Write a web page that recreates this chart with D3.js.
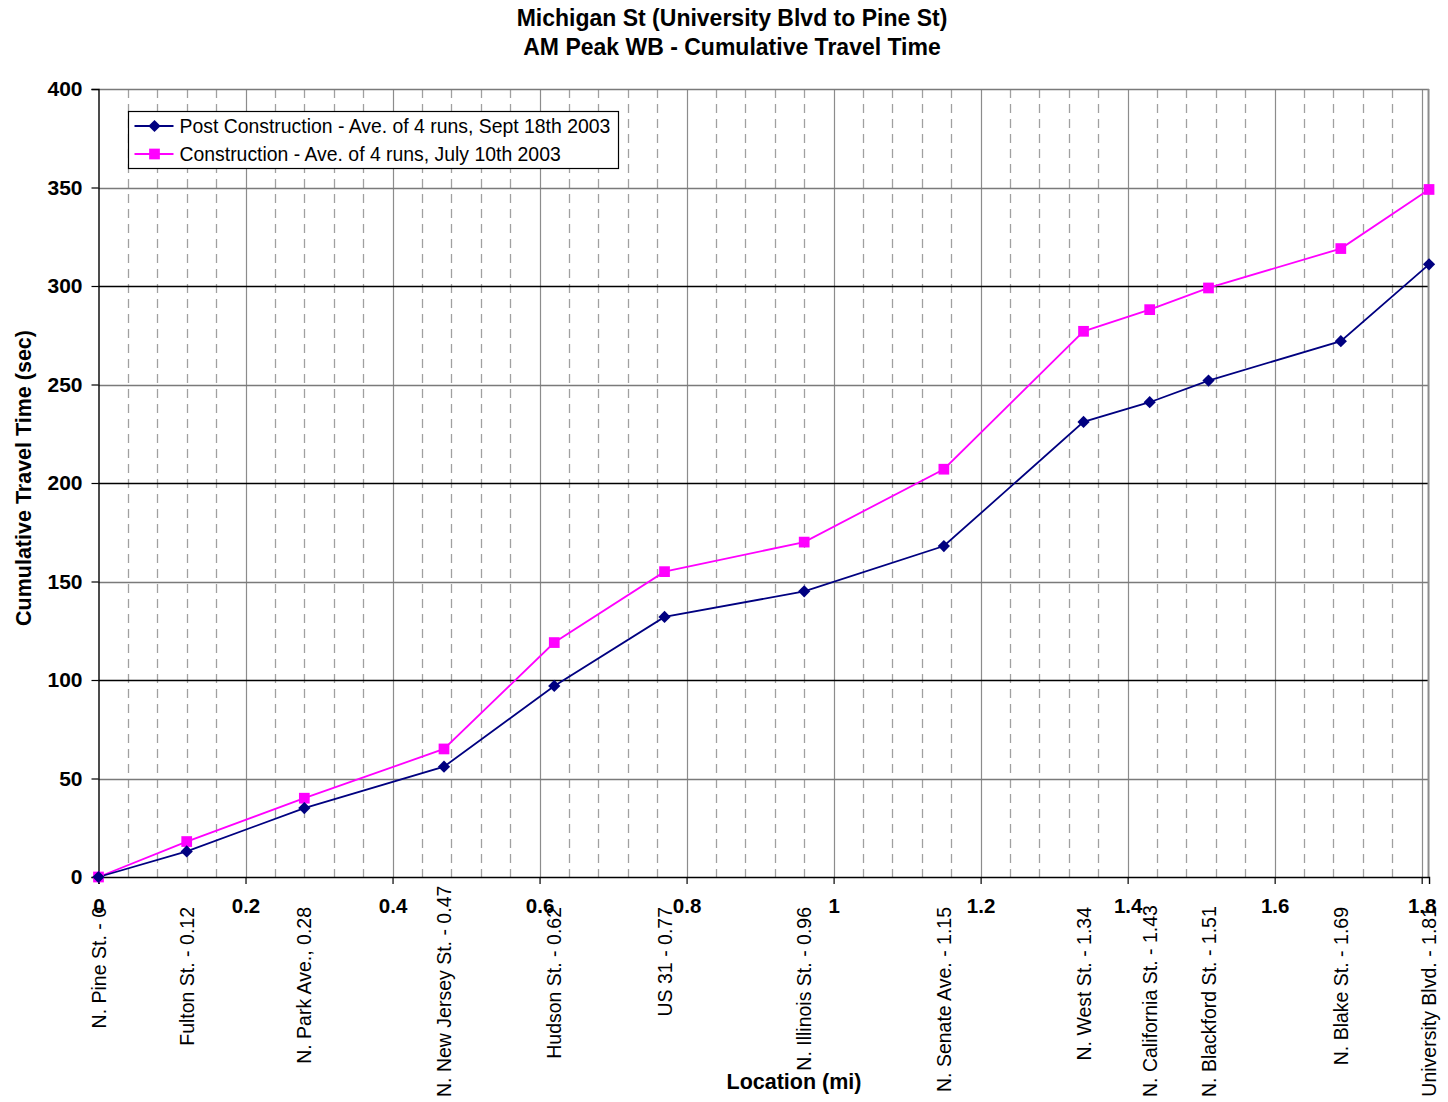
<!DOCTYPE html>
<html>
<head>
<meta charset="utf-8">
<script src="https://cdn.jsdelivr.net/npm/d3@7"></script>
<style>
  body { margin: 0; background: #fff; }
  svg { font-family: Arial, "Liberation Sans", sans-serif; }
</style>
</head>
<body>
<svg id="chart" width="1448" height="1102"></svg>
<script>
// data
const locations = ["N. Pine St. - 0", "Fulton St. - 0.12", "N. Park Ave.,  0.28", "N. New Jersey St. - 0.47",
  "Hudson St. - 0.62", "US 31 - 0.77", "N. Illinois St. - 0.96", "N. Senate Ave. - 1.15", "N. West St. - 1.34",
  "N. California St. - 1.43", "N. Blackford St. - 1.51", "N. Blake St. - 1.69", "University Blvd. - 1.81"];
const distances = [0, 0.12, 0.28, 0.47, 0.62, 0.77, 0.96, 1.15, 1.34, 1.43, 1.51, 1.69, 1.81];
const postConstruction = [0, 13, 35, 56, 97, 132, 145, 168, 231, 241, 252, 272, 311];
const construction = [0, 18, 40, 65, 119, 155, 170, 207, 277, 288, 299, 319, 349];
const xTicks = [0, 0.2, 0.4, 0.6, 0.8, 1, 1.2, 1.4, 1.6, 1.8];
const yTicks = [0, 50, 100, 150, 200, 250, 300, 350, 400];

const svg = d3.select("#chart");

// plot area
const plotLeft = 98.5, plotTop = 89, plotBottom = 877;
const x = d3.scaleLinear().domain([0, 1.81]).range([plotLeft, plotLeft + 1.81 * 735.1]);
const y = d3.scaleLinear().domain([0, 400]).range([plotBottom, plotTop]);
const plotRight = x(1.81);

// minor dashed vertical grid every 0.04
const minor = d3.range(1, 46).map(i => i * 0.04).filter(v => Math.abs(v / 0.2 - Math.round(v / 0.2)) > 0.01);
svg.append("g").selectAll("line")
  .data(minor)
  .enter().append("line")
  .attr("x1", d => Math.round(x(d)) + 0.5).attr("x2", d => Math.round(x(d)) + 0.5)
  .attr("y1", plotTop).attr("y2", plotBottom)
  .attr("stroke", "#a0a0a0").attr("stroke-width", 1.3)
  .attr("stroke-dasharray", "9,6");

// major vertical grid
svg.append("g").selectAll("line")
  .data(xTicks.slice(1))
  .enter().append("line")
  .attr("x1", d => Math.round(x(d)) + 0.5).attr("x2", d => Math.round(x(d)) + 0.5)
  .attr("y1", plotTop).attr("y2", plotBottom)
  .attr("stroke", "#8c8c8c").attr("stroke-width", 1.2);

// horizontal grid (hundreds drawn darker)
svg.append("g").selectAll("line")
  .data(yTicks.slice(1))
  .enter().append("line")
  .attr("x1", plotLeft).attr("x2", plotRight)
  .attr("y1", d => Math.round(y(d)) + 0.5).attr("y2", d => Math.round(y(d)) + 0.5)
  .attr("stroke", d => (d % 100 === 0 && d < 400) ? "#000" : "#7a7a7a")
  .attr("stroke-width", 1.3);

// right border
svg.append("line")
  .attr("x1", plotRight - 0.5).attr("x2", plotRight - 0.5).attr("y1", plotTop).attr("y2", plotBottom)
  .attr("stroke", "#8c8c8c").attr("stroke-width", 2);

// axes
const yAxis = svg.append("g")
  .attr("transform", `translate(${plotLeft},0)`)
  .call(d3.axisLeft(y).tickValues(yTicks).tickSize(7).tickPadding(9).tickFormat(d3.format("d")));
yAxis.select(".domain").attr("stroke", "#000").attr("stroke-width", 1.4);
yAxis.selectAll(".tick line").attr("stroke", "#000").attr("stroke-width", 1.2);
yAxis.selectAll("text").attr("font-size", 21).attr("font-weight", "bold").attr("fill", "#000")
  .attr("font-family", "Arial, 'Liberation Sans', sans-serif");

const xAxis = svg.append("g")
  .attr("transform", `translate(0,${plotBottom})`)
  .call(d3.axisBottom(x).tickValues(xTicks).tickSize(7).tickPadding(14).tickFormat(d3.format("")));
xAxis.select(".domain").attr("stroke", "#000").attr("stroke-width", 1.4);
xAxis.selectAll(".tick line").attr("stroke", "#000").attr("stroke-width", 1.2);
xAxis.selectAll("text").attr("font-size", 20.5).attr("font-weight", "bold").attr("fill", "#000")
  .attr("font-family", "Arial, 'Liberation Sans', sans-serif");

// series lines
const pts = vals => vals.map((v, i) => [distances[i], v]);
const line = d3.line().x(d => x(d[0])).y(d => y(d[1]));

svg.append("path").datum(pts(construction))
  .attr("d", line).attr("fill", "none").attr("stroke", "#ff00ff").attr("stroke-width", 1.8);
svg.append("path").datum(pts(postConstruction))
  .attr("d", line).attr("fill", "none").attr("stroke", "#000080").attr("stroke-width", 1.8);

const square = d3.symbol().type(d3.symbolSquare).size(115);
const diamond = d3.symbol().type(d3.symbolSquare).size(75);

svg.append("g").selectAll("path")
  .data(pts(construction))
  .enter().append("path")
  .attr("d", square)
  .attr("transform", d => `translate(${x(d[0])},${y(d[1])})`)
  .attr("fill", "#ff00ff");
svg.append("g").selectAll("path")
  .data(pts(postConstruction))
  .enter().append("path")
  .attr("d", diamond)
  .attr("transform", d => `translate(${x(d[0])},${y(d[1])}) rotate(45)`)
  .attr("fill", "#000080");

// rotated location labels
const labelTop = 907, labelBottomLimit = 1097;
svg.append("g").selectAll("text")
  .data(locations)
  .enter().append("text")
  .attr("font-size", 19.5)
  .attr("fill", "#000")
  .attr("text-anchor", "end")
  .text(d => d)
  .each(function(d, i) {
    const len = this.getComputedTextLength();
    const topY = Math.min(labelTop, labelBottomLimit - len);
    d3.select(this).attr("transform", `translate(${x(distances[i]) + 7},${topY}) rotate(-90)`);
  });

// titles
svg.append("text").attr("x", 732).attr("y", 26).attr("text-anchor", "middle")
  .attr("font-size", 23).attr("font-weight", "bold").text("Michigan St (University Blvd to Pine St)");
svg.append("text").attr("x", 732).attr("y", 55).attr("text-anchor", "middle")
  .attr("font-size", 23).attr("font-weight", "bold").text("AM Peak WB - Cumulative Travel Time");
svg.append("text").attr("x", 794).attr("y", 1089).attr("text-anchor", "middle")
  .attr("font-size", 21.5).attr("font-weight", "bold").text("Location (mi)");
svg.append("text").attr("transform", "translate(31,478) rotate(-90)").attr("text-anchor", "middle")
  .attr("font-size", 21.5).attr("font-weight", "bold").text("Cumulative Travel Time (sec)");

// legend
const legend = svg.append("g").attr("transform", "translate(128.5,111.5)");
legend.append("rect").attr("width", 490).attr("height", 57)
  .attr("fill", "#fff").attr("stroke", "#000").attr("stroke-width", 1.2);
const legendItems = [
  { name: "Post Construction - Ave. of 4 runs, Sept 18th 2003", color: "#000080", sym: diamond, rot: 45 },
  { name: "Construction - Ave. of 4 runs, July 10th 2003", color: "#ff00ff", sym: square, rot: 0 }
];
legendItems.forEach((it, i) => {
  const yy = 14.5 + i * 28;
  legend.append("line").attr("x1", 6).attr("x2", 45).attr("y1", yy).attr("y2", yy)
    .attr("stroke", it.color).attr("stroke-width", 1.8);
  legend.append("path").attr("d", it.sym).attr("transform", `translate(26,${yy}) rotate(${it.rot})`).attr("fill", it.color);
  legend.append("text").attr("x", 51).attr("y", yy + 7).attr("font-size", 19.4).attr("fill", "#000").text(it.name);
});
</script>
</body>
</html>
